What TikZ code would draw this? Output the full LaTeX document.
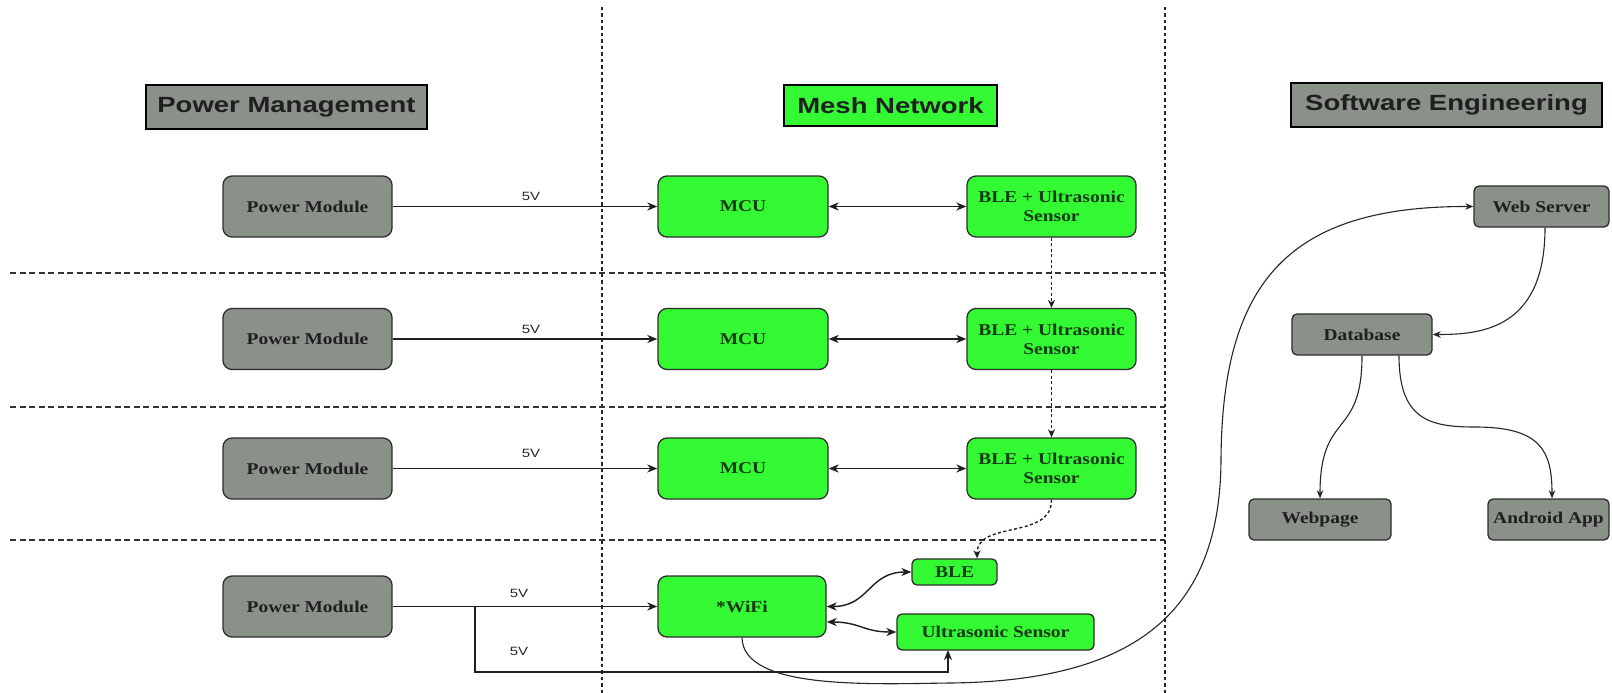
\documentclass[tikz,border=0pt]{standalone}
\usepackage{fontspec}
\setmainfont{Liberation Serif}[FakeStretch=1.18]
\newfontfamily\hdfont{Liberation Sans}[FakeStretch=1.25]
\usetikzlibrary{arrows.meta,calc}
\definecolor{gfill}{RGB}{138,145,137}
\definecolor{grfill}{RGB}{51,250,51}
\definecolor{grtext}{RGB}{22,58,22}
\definecolor{bord}{RGB}{45,45,45}
\tikzset{
  hdr/.style={draw=black, line width=1.2pt, inner sep=0pt, text=black!88,
    font=\hdfont\bfseries\fontsize{22}{26}\selectfont},
  graybox/.style={draw=bord, fill=gfill, rounded corners=9pt, line width=1.3pt,
    inner sep=0pt, align=center, text=black!88,
    font=\bfseries\fontsize{16.5}{20}\selectfont},
  greenbox/.style={draw=bord, fill=grfill, rounded corners=9pt, line width=1.3pt,
    inner sep=0pt, align=center, text=grtext,
    font=\bfseries\fontsize{16.5}{20}\selectfont},
  smallbox/.style={rounded corners=5pt},
  lbl/.style={inner sep=0pt, font=\hdfont\fontsize{12}{14}\selectfont, text=black!85},
  conn/.style={line width=1.4pt, draw=black!88, arrows={-Stealth[length=10pt,width=8pt,inset=3pt]}},
  biconn/.style={line width=1.4pt, draw=black!88, arrows={Stealth[length=10pt,width=8pt,inset=3pt]-Stealth[length=10pt,width=8pt,inset=3pt]}},
  dconn/.style={line width=1.4pt, draw=black!88, dash pattern=on 3pt off 2.5pt, arrows={-Stealth[length=8pt,width=7pt,inset=2.5pt]}},
  thinconn/.style={line width=1.1pt, draw=black!85, arrows={-Stealth[length=8pt,width=6.5pt,inset=2.5pt]}},
  vsep/.style={line width=1.8pt, draw=black!85, dash pattern=on 3.5pt off 3pt},
  hsep/.style={line width=1.2pt, draw=black!80, dash pattern=on 6pt off 3.5pt},
}
\begin{document}
\begin{tikzpicture}[x=1pt,y=-1pt]
\useasboundingbox[fill=white] (0,0) rectangle (1612,693);

% separators
\draw[vsep] (602,7) -- (602,693);
\draw[vsep] (1165,7) -- (1165,693);
\draw[hsep] (10,273) -- (1165,273);
\draw[hsep] (10,407) -- (1165,407);
\draw[hsep] (10,540) -- (1165,540);

% headers
\node[hdr, fill=gfill, minimum width=281pt, minimum height=44pt] (hPM) at (286.5,107) {Power Management};
\node[hdr, fill=grfill, minimum width=213pt, minimum height=41pt] (hMN) at (890.5,105.5) {Mesh Network};
\node[hdr, fill=gfill, minimum width=311pt, minimum height=44pt] (hSE) at (1446.5,105) {Software Engineering};

% power modules
\foreach \i/\y in {1/206.5, 2/339, 3/468.5, 4/606.5}{
  \node[graybox, minimum width=169pt, minimum height=61pt] (pm\i) at (307.5,\y) {Power Module};
}
% MCUs and sensors
\foreach \i/\y in {1/206.5, 2/339, 3/468.5}{
  \node[greenbox, minimum width=170pt, minimum height=61pt] (mcu\i) at (743,\y) {MCU};
  \node[greenbox, minimum width=169pt, minimum height=61pt] (bus\i) at (1051.5,\y) {BLE + Ultrasonic\\[-1pt]Sensor};
}
\node[greenbox, minimum width=168pt, minimum height=61pt] (wifi) at (742,606.5) {*WiFi};
\node[greenbox, smallbox, minimum width=85pt, minimum height=26pt] (ble) at (954.5,572) {BLE};
\node[greenbox, smallbox, minimum width=197pt, minimum height=36pt] (us) at (995.5,632) {Ultrasonic Sensor};

% software engineering
\node[graybox, smallbox, minimum width=135pt, minimum height=41pt] (web) at (1541.5,206.5) {Web Server};
\node[graybox, smallbox, minimum width=140pt, minimum height=41pt] (db) at (1362,334.5) {Database};
\node[graybox, smallbox, minimum width=142pt, minimum height=41pt] (wp) at (1320,519.5) {Webpage};
\node[graybox, smallbox, minimum width=121pt, minimum height=41pt] (app) at (1548.5,519.5) {Android App};

% power connectors
\foreach \i in {1,2,3}{
  \draw[conn] (pm\i.east) -- (mcu\i.west);
  \draw[biconn] (mcu\i.east) -- (bus\i.west);
}
\node[lbl] (v1) at (531,196) {5V};
\node[lbl] (v2) at (531,329) {5V};
\node[lbl] (v3) at (531,453) {5V};
\node[lbl] (v4) at (519,593) {5V};
\node[lbl] (v5) at (519,651) {5V};

\draw[conn] (pm4.east) -- (wifi.west);
\coordinate (br) at (475,606.5);
\coordinate (bl) at (475,672);
\coordinate (usin) at (948,650);
\draw[conn] (br) -- (bl) -| (usin);

% dashed chain
\draw[dconn] (bus1.south) -- (bus2.north);
\draw[dconn] (bus2.south) -- (bus3.north);
\draw[dconn] (bus3.south) .. controls (1052,540) and (977,520) .. ([xshift=22.5pt]ble.north);

% wifi links
\draw[biconn] (wifi.east) to[out=0,in=180,looseness=1.2] (ble.west);
\draw[biconn] ([yshift=-15.5pt]wifi.east) to[out=0,in=180,looseness=1.2] (us.west);

% wifi to web server
\coordinate (c1) at (950,683);
\coordinate (c2) at (1221,460);
\draw[thinconn] (wifi.south) .. controls (743,690) and (870,684) .. (c1)
   .. controls (1150,681) and (1220,600) .. (c2)
   .. controls (1222,280) and (1290,206) .. (web.west);

% software connectors
\draw[thinconn] ([xshift=3.5pt]web.south) .. controls (1545,330) and (1480,334.5) .. (db.east);
\draw[thinconn] (db.south) .. controls (1362,440) and (1320,410) .. (wp.north);
\coordinate (c3) at (1475,427);
\draw[thinconn] ([xshift=37pt]db.south) .. controls (1399,420) and (1430,427) .. (c3)
   .. controls (1540,427) and (1552,450) .. ([xshift=3.5pt]app.north);
\end{tikzpicture}
\end{document}
